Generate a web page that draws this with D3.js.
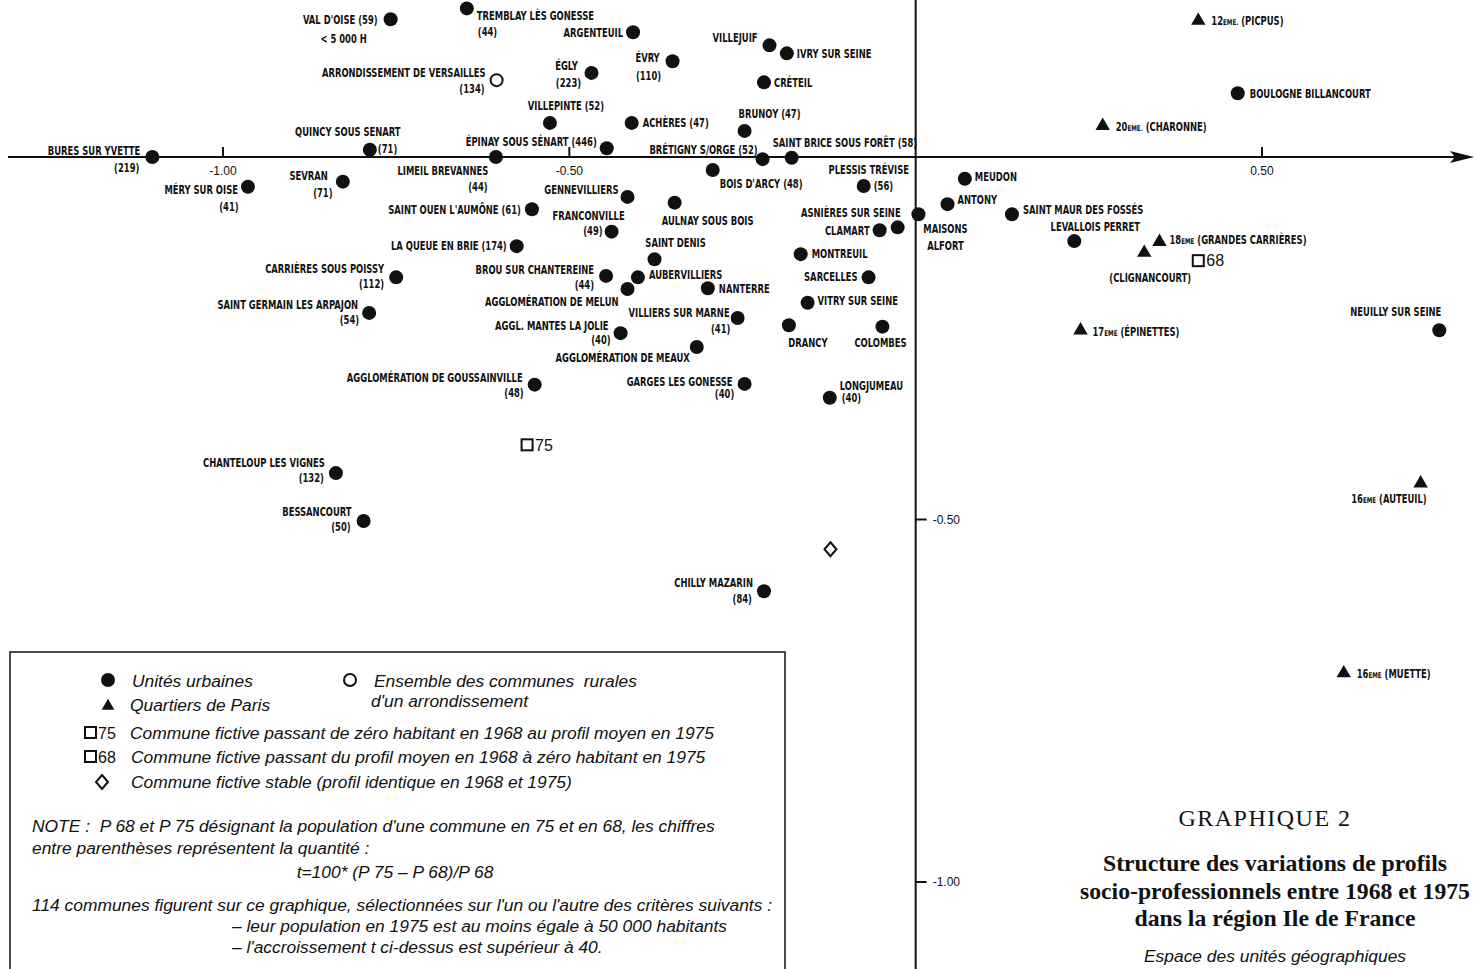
<!DOCTYPE html>
<html>
<head>
<meta charset="utf-8">
<script src="https://cdn.jsdelivr.net/npm/d3@7"></script>
<style>
  body { margin: 0; background: #fff; }
  svg { display: block; }
  .lbl { font-family: "Liberation Sans Narrow", "Arial Narrow", "DejaVu Sans Condensed", "Liberation Sans", sans-serif; font-weight: 700; font-size: 12px; fill: #111; }
  .tick { font-family: "Liberation Sans Narrow", "Liberation Sans", sans-serif; font-size: 12px; fill: #111; }
  .leg { font-family: "Liberation Sans", Arial, sans-serif; font-style: italic; font-size: 17.4px; fill: #111; }
  .num { font-family: "Liberation Sans", Arial, sans-serif; font-size: 16px; fill: #111; }
  .ttl { font-family: "Liberation Serif", "Times New Roman", serif; fill: #111; }
</style>
</head>
<body>
<svg id="chart"></svg>
<script>
const W = 1474, H = 969;

// axis ticks
const xTicks = [-1, -0.5, 0.5];
const yTicks = [-0.5, -1];

// unités urbaines : name, axis 1, axis 2, t (growth), note
const urbanUnits = [
  ["VAL D'OISE", -0.758, 0.190, 59, "< 5 000 H"],
  ["TREMBLAY LÈS GONESSE", -0.648, 0.205, 44],
  ["ARGENTEUIL", -0.408, 0.172, null],
  ["ÉVRY", -0.351, 0.132, 110],
  ["ÉGLY", -0.468, 0.116, 223],
  ["VILLEJUIF", -0.211, 0.154, null],
  ["IVRY SUR SEINE", -0.186, 0.143, null],
  ["CRÉTEIL", -0.219, 0.103, null],
  ["VILLEPINTE", -0.528, 0.047, 52],
  ["ACHÈRES", -0.410, 0.047, 47],
  ["BRUNOY", -0.247, 0.036, 47],
  ["ÉPINAY SOUS SÉNART", -0.446, 0.012, 446],
  ["QUINCY SOUS SENART", -0.788, 0.010, 71],
  ["BURES SUR YVETTE", -1.102, 0.000, 219],
  ["LIMEIL BREVANNES", -0.606, 0.000, 44],
  ["BRÉTIGNY S/ORGE", -0.221, -0.003, 52],
  ["SAINT BRICE SOUS FORÊT", -0.179, -0.001, 58],
  ["BOIS D'ARCY", -0.293, -0.018, 48],
  ["PLESSIS TRÉVISE", -0.075, -0.040, 56],
  ["MÉRY SUR OISE", -0.964, -0.041, 41],
  ["SEVRAN", -0.827, -0.034, 71],
  ["GENNEVILLIERS", -0.416, -0.055, null],
  ["AULNAY SOUS BOIS", -0.348, -0.063, null],
  ["SAINT OUEN L'AUMÔNE", -0.554, -0.072, 61],
  ["FRANCONVILLE", -0.439, -0.103, 49],
  ["ASNIÈRES SUR SEINE", -0.026, -0.097, null],
  ["CLAMART", -0.052, -0.101, null],
  ["MAISONS ALFORT", 0.004, -0.079, null],
  ["MEUDON", 0.071, -0.030, null],
  ["ANTONY", 0.046, -0.065, null],
  ["SAINT MAUR DES FOSSÉS", 0.139, -0.079, null],
  ["LEVALLOIS PERRET", 0.229, -0.116, null],
  ["LA QUEUE EN BRIE", -0.576, -0.123, 174],
  ["SAINT DENIS", -0.377, -0.141, null],
  ["MONTREUIL", -0.166, -0.134, null],
  ["CARRIÈRES SOUS POISSY", -0.750, -0.166, 112],
  ["BROU SUR CHANTEREINE", -0.447, -0.164, 44],
  ["AUBERVILLIERS", -0.401, -0.166, null],
  ["AGGLOMÉRATION DE MELUN", -0.416, -0.182, null],
  ["NANTERRE", -0.300, -0.181, null],
  ["SARCELLES", -0.068, -0.166, null],
  ["VITRY SUR SEINE", -0.156, -0.201, null],
  ["SAINT GERMAIN LES ARPAJON", -0.789, -0.215, 54],
  ["VILLIERS SUR MARNE", -0.257, -0.222, 41],
  ["AGGL. MANTES LA JOLIE", -0.426, -0.243, 40],
  ["DRANCY", -0.183, -0.232, null],
  ["COLOMBES", -0.048, -0.234, null],
  ["AGGLOMÉRATION DE MEAUX", -0.316, -0.262, null],
  ["AGGLOMÉRATION DE GOUSSAINVILLE", -0.550, -0.314, 48],
  ["GARGES LES GONESSE", -0.247, -0.313, 40],
  ["LONGJUMEAU", -0.124, -0.332, 40],
  ["CHANTELOUP LES VIGNES", -0.837, -0.436, 132],
  ["BESSANCOURT", -0.797, -0.502, 50],
  ["CHILLY MAZARIN", -0.219, -0.599, 84],
  ["BOULOGNE BILLANCOURT", 0.465, 0.088, null],
  ["NEUILLY SUR SEINE", 0.756, -0.239, null]
];

// ensemble des communes rurales d'un arrondissement
const ruralUnits = [
  ["ARRONDISSEMENT DE VERSAILLES", -0.605, 0.106, 134]
];

// quartiers de Paris : arrondissement, quartier, axis 1, axis 2
const parisQuarters = [
  ["12", "PICPUS", 0.408, 0.188],
  ["20", "CHARONNE", 0.270, 0.043],
  ["18", "GRANDES CARRIÈRES", 0.352, -0.117],
  ["18", "CLIGNANCOURT", 0.330, -0.132],
  ["17", "ÉPINETTES", 0.238, -0.239],
  ["16", "AUTEUIL", 0.729, -0.450],
  ["16", "MUETTE", 0.618, -0.712]
];

// communes fictives
const fictiveUnits = [["75", -0.561, -0.397], ["68", 0.408, -0.143]];
const stableUnit = [-0.123, -0.541];

// label placement (pixel offsets from the mark): n = name, g = growth ("i" = inline), t = note
const urbanLayout = {
  "VAL D'OISE": { n: ["end", -13, 0], g: "i", t: ["middle", -47, 19] },
  "TREMBLAY LÈS GONESSE": { n: ["start", 10, 7], g: ["start", 11, 23] },
  "ARGENTEUIL": { n: ["end", -10, 0] },
  "ÉVRY": { n: ["middle", -25, -4], g: ["middle", -24, 14] },
  "ÉGLY": { n: ["middle", -25, -7], g: ["middle", -23, 10] },
  "VILLEJUIF": { n: ["end", -12, -8] },
  "IVRY SUR SEINE": { n: ["start", 10, 0] },
  "CRÉTEIL": { n: ["start", 10, 0] },
  "VILLEPINTE": { n: ["middle", 16, -17], g: "i" },
  "ACHÈRES": { n: ["start", 11, 0], g: "i" },
  "BRUNOY": { n: ["middle", 25, -17], g: "i" },
  "ÉPINAY SOUS SÉNART": { n: ["end", -10, -7], g: "i" },
  "QUINCY SOUS SENART": { n: ["middle", -22, -18], g: ["start", 8, -1] },
  "BURES SUR YVETTE": { n: ["end", -12, -6], g: ["end", -13, 11] },
  "LIMEIL BREVANNES": { n: ["middle", -53, 14], g: ["middle", -18, 30] },
  "BRÉTIGNY S/ORGE": { n: ["end", -5, -9], g: "i" },
  "SAINT BRICE SOUS FORÊT": { n: ["start", -19, -15], g: "i" },
  "BOIS D'ARCY": { n: ["start", 7, 14], g: "i" },
  "PLESSIS TRÉVISE": { n: ["middle", 5, -16], g: ["start", 10, 0] },
  "MÉRY SUR OISE": { n: ["end", -10, 3], g: ["middle", -19, 20] },
  "SEVRAN": { n: ["end", -15, -6], g: ["middle", -20, 11] },
  "GENNEVILLIERS": { n: ["end", -9, -7] },
  "AULNAY SOUS BOIS": { n: ["middle", 33, 18] },
  "SAINT OUEN L'AUMÔNE": { n: ["end", -11, 0], g: "i" },
  "FRANCONVILLE": { n: ["middle", -23, -16], g: ["end", -9, -1] },
  "ASNIÈRES SUR SEINE": { n: ["end", 3, -15] },
  "CLAMART": { n: ["end", -10, 0] },
  "MAISONS ALFORT": { n: ["middle", 27, 14], wrap: 17 },
  "MEUDON": { n: ["start", 10, -2] },
  "ANTONY": { n: ["start", 10, -4] },
  "SAINT MAUR DES FOSSÉS": { n: ["start", 11, -5] },
  "LEVALLOIS PERRET": { n: ["middle", 21, -14] },
  "LA QUEUE EN BRIE": { n: ["end", -10, 0], g: "i" },
  "SAINT DENIS": { n: ["middle", 21, -17] },
  "MONTREUIL": { n: ["start", 11, 0] },
  "CARRIÈRES SOUS POISSY": { n: ["end", -12, -9], g: ["end", -12, 6] },
  "BROU SUR CHANTEREINE": { n: ["end", -12, -6], g: ["end", -12, 9] },
  "AUBERVILLIERS": { n: ["start", 11, -3] },
  "AGGLOMÉRATION DE MELUN": { n: ["end", -9, 13] },
  "NANTERRE": { n: ["start", 11, 0] },
  "SARCELLES": { n: ["end", -11, -1] },
  "VITRY SUR SEINE": { n: ["start", 10, -2] },
  "SAINT GERMAIN LES ARPAJON": { n: ["end", -11, -8], g: ["end", -10, 7] },
  "VILLIERS SUR MARNE": { n: ["end", -8, -5], g: ["middle", -17, 11] },
  "AGGL. MANTES LA JOLIE": { n: ["end", -12, -7], g: ["end", -10, 7] },
  "DRANCY": { n: ["middle", 19, 17] },
  "COLOMBES": { n: ["middle", -2, 16] },
  "AGGLOMÉRATION DE MEAUX": { n: ["end", -7, 11] },
  "AGGLOMÉRATION DE GOUSSAINVILLE": { n: ["end", -12, -7], g: ["end", -11, 8] },
  "GARGES LES GONESSE": { n: ["end", -12, -2], g: ["middle", -20, 10] },
  "LONGJUMEAU": { n: ["start", 10, -12], g: ["start", 12, 0] },
  "CHANTELOUP LES VIGNES": { n: ["end", -11, -10], g: ["end", -12, 5] },
  "BESSANCOURT": { n: ["end", -12, -9], g: ["end", -13, 6] },
  "CHILLY MAZARIN": { n: ["end", -11, -9], g: ["end", -12, 7] },
  "BOULOGNE BILLANCOURT": { n: ["start", 12, 0] },
  "NEUILLY SUR SEINE": { n: ["end", 2, -19] }
};
const ruralLayout = { n: ["end", -11, -7], g: ["end", -12, 9] };
const quarterLayout = {
  "PICPUS": { n: ["start", 13, 0], dot: true },
  "CHARONNE": { n: ["start", 13, 1], dot: true },
  "GRANDES CARRIÈRES": { n: ["start", 10, -2] },
  "CLIGNANCOURT": { n: ["middle", 6, 25], only: true },
  "ÉPINETTES": { n: ["start", 12, 1] },
  "AUTEUIL": { n: ["end", 6, 15] },
  "MUETTE": { n: ["start", 13, 0] }
};
const squeeze = 0.78; //labels are set in a condensed face

const svg = d3.select("#chart").attr("width", W).attr("height", H);

const x = d3.scaleLinear().domain([-1, 0.5]).range([223, 1262]);
const y = d3.scaleLinear().domain([0, -1]).range([157, 882]);
const fmt = v => d3.format(".2f")(v).replace("−", "-");

//axes
const axes = svg.append("g");
axes.append("line")
    .attr("x1", 8).attr("x2", W - 16)
    .attr("y1", y(0)).attr("y2", y(0))
    .attr("stroke", "#111").attr("stroke-width", 2);
axes.append("path")
    .attr("d", `M${W},${y(0)} L${W - 24},${y(0) - 6} L${W - 19},${y(0)} L${W - 24},${y(0) + 6} Z`)
    .attr("fill", "#111");
axes.append("line")
    .attr("x1", x(0)).attr("x2", x(0))
    .attr("y1", 0).attr("y2", H)
    .attr("stroke", "#111").attr("stroke-width", 2);

axes.selectAll(".xt").data(xTicks).join("line")
    .attr("x1", d => x(d)).attr("x2", d => x(d))
    .attr("y1", y(0) - 10).attr("y2", y(0))
    .attr("stroke", "#111").attr("stroke-width", 2);
axes.selectAll(".xl").data(xTicks).join("text")
    .attr("class", "tick")
    .attr("x", d => x(d)).attr("y", y(0) + 18)
    .attr("text-anchor", "middle")
    .text(fmt);
axes.selectAll(".yt").data(yTicks).join("line")
    .attr("x1", x(0)).attr("x2", x(0) + 11)
    .attr("y1", d => y(d)).attr("y2", d => y(d))
    .attr("stroke", "#111").attr("stroke-width", 2);
axes.selectAll(".yl").data(yTicks).join("text")
    .attr("class", "tick")
    .attr("x", x(0) + 17).attr("y", d => y(d))
    .attr("dy", "0.35em")
    .text(fmt);

//helper to write one label line
function put(g, px, py, spec, txt) {
    return g.append("text")
        .attr("class", "lbl")
        .attr("transform", `translate(${px + spec[1]},${py + spec[2]}) scale(${squeeze},1)`)
        .attr("dy", "0.36em")
        .attr("text-anchor", spec[0])
        .text(txt);
}

const marks = svg.append("g");
const labels = svg.append("g");

//unités urbaines
marks.selectAll(".urban")
    .data(urbanUnits)
    .join("circle")
    .attr("class", "urban")
    .attr("cx", d => x(d[1])).attr("cy", d => y(d[2]))
    .attr("r", 7).attr("fill", "#111");

urbanUnits.forEach(d => {
    const lay = urbanLayout[d[0]];
    const px = x(d[1]), py = y(d[2]);
    let name = d[0];
    if (lay.g === "i") name += ` (${d[3]})`;
    if (lay.wrap) {
        const i = name.indexOf(" ");
        put(labels, px, py, lay.n, name.slice(0, i));
        put(labels, px, py + lay.wrap, lay.n, name.slice(i + 1));
    } else {
        put(labels, px, py, lay.n, name);
    }
    if (lay.g && lay.g !== "i") put(labels, px, py, lay.g, `(${d[3]})`);
    if (lay.t && d[4]) put(labels, px, py, lay.t, d[4]);
});

//communes rurales
marks.selectAll(".rural")
    .data(ruralUnits)
    .join("circle")
    .attr("class", "rural")
    .attr("cx", d => x(d[1])).attr("cy", d => y(d[2]))
    .attr("r", 6).attr("fill", "#fff")
    .attr("stroke", "#111").attr("stroke-width", 2);
ruralUnits.forEach(d => {
    put(labels, x(d[1]), y(d[2]), ruralLayout.n, d[0]);
    put(labels, x(d[1]), y(d[2]), ruralLayout.g, `(${d[3]})`);
});

//quartiers de Paris
const tri = d3.symbol(d3.symbolTriangle, 90);
marks.selectAll(".quarter")
    .data(parisQuarters)
    .join("path")
    .attr("class", "quarter")
    .attr("transform", d => `translate(${x(d[2])},${y(d[3])})`)
    .attr("d", tri).attr("fill", "#111");
parisQuarters.forEach(d => {
    const lay = quarterLayout[d[1]];
    const t = put(labels, x(d[2]), y(d[3]), lay.n, "");
    if (lay.only) {
        t.text(`(${d[1]})`);
    } else {
        t.append("tspan").text(d[0]);
        t.append("tspan").attr("font-size", "8px").text("EME" + (lay.dot ? "." : ""));
        t.append("tspan").text(` (${d[1]})`);
    }
});

//communes fictives
fictiveUnits.forEach(d => {
    const px = x(d[1]), py = y(d[2]);
    marks.append("rect")
        .attr("x", px - 5.5).attr("y", py - 5.5)
        .attr("width", 11).attr("height", 11)
        .attr("fill", "none").attr("stroke", "#111").attr("stroke-width", 2);
    marks.append("text").attr("class", "num")
        .attr("x", px + 8).attr("y", py).attr("dy", "0.36em")
        .text(d[0]);
});
marks.append("path")
    .attr("transform", `translate(${x(stableUnit[0])},${y(stableUnit[1])})`)
    .attr("d", "M0,-7 L6,0 L0,7 L-6,0 Z")
    .attr("fill", "none").attr("stroke", "#111").attr("stroke-width", 2);

//legend box
const leg = svg.append("g");
leg.append("rect")
    .attr("x", 10).attr("y", 652).attr("width", 775).attr("height", 340)
    .attr("fill", "#fff").attr("stroke", "#111").attr("stroke-width", 1.5);
leg.append("circle").attr("cx", 108).attr("cy", 680).attr("r", 7).attr("fill", "#111");
leg.append("path").attr("transform", "translate(108,706)").attr("d", d3.symbol(d3.symbolTriangle, 70)).attr("fill", "#111");
leg.append("circle").attr("cx", 350).attr("cy", 680).attr("r", 6)
    .attr("fill", "none").attr("stroke", "#111").attr("stroke-width", 2);
[["75", 733], ["68", 757]].forEach(([k, yy]) => {
    leg.append("rect").attr("x", 85).attr("y", yy - 6).attr("width", 11).attr("height", 11)
        .attr("fill", "none").attr("stroke", "#111").attr("stroke-width", 2);
    leg.append("text").attr("class", "num").attr("x", 98).attr("y", yy).attr("dy", "0.36em")
        .attr("font-size", "17px").text(k);
});
leg.append("path").attr("transform", "translate(102,782)")
    .attr("d", "M0,-7 L6,0 L0,7 L-6,0 Z")
    .attr("fill", "none").attr("stroke", "#111").attr("stroke-width", 2);

const legendLines = [
    [132, 681, "start", "Unités urbaines"],
    [130, 705, "start", "Quartiers de Paris"],
    [374, 681, "start", "Ensemble des communes  rurales"],
    [371, 701, "start", "d'un arrondissement"],
    [130, 733, "start", "Commune fictive passant de zéro habitant en 1968 au profil moyen en 1975"],
    [131, 757, "start", "Commune fictive passant du profil moyen en 1968 à zéro habitant en 1975"],
    [131, 782, "start", "Commune fictive stable (profil identique en 1968 et 1975)"],
    [32, 826, "start", "NOTE :  P 68 et P 75 désignant la population d'une commune en 75 et en 68, les chiffres"],
    [32, 848, "start", "entre parenthèses représentent la quantité :"],
    [395, 872, "middle", "t=100* (P 75 – P 68)/P 68"],
    [32, 905, "start", "114 communes figurent sur ce graphique, sélectionnées sur l'un ou l'autre des critères suivants :"],
    [232, 926, "start", "– leur population en 1975 est au moins égale à 50 000 habitants"],
    [232, 947, "start", "– l'accroissement t ci-dessus est supérieur à 40."]
];
leg.selectAll(".legt").data(legendLines).join("text")
    .attr("class", "leg")
    .attr("x", d => d[0]).attr("y", d => d[1]).attr("dy", "0.36em")
    .attr("text-anchor", d => d[2])
    .attr("xml:space", "preserve")
    .style("white-space", "pre")
    .text(d => d[3]);

//title block
const title = svg.append("g").attr("transform", "translate(1275,0)");
title.append("text").attr("class", "ttl").attr("x", -10).attr("y", 826).attr("text-anchor", "middle")
    .attr("font-size", "24px").attr("letter-spacing", "1.5px").text("GRAPHIQUE 2");
["Structure des variations de profils",
 "socio-professionnels entre 1968 et 1975",
 "dans la région Ile de France"].forEach((s, i) => {
    title.append("text").attr("class", "ttl").attr("y", 871 + i * 27.5)
        .attr("text-anchor", "middle").attr("font-weight", "bold")
        .attr("font-size", "23.7px").text(s);
});
title.append("text").attr("class", "leg").attr("y", 962).attr("text-anchor", "middle")
    .attr("font-size", "15.6px").text("Espace des unités géographiques");
</script>
</body>
</html>
